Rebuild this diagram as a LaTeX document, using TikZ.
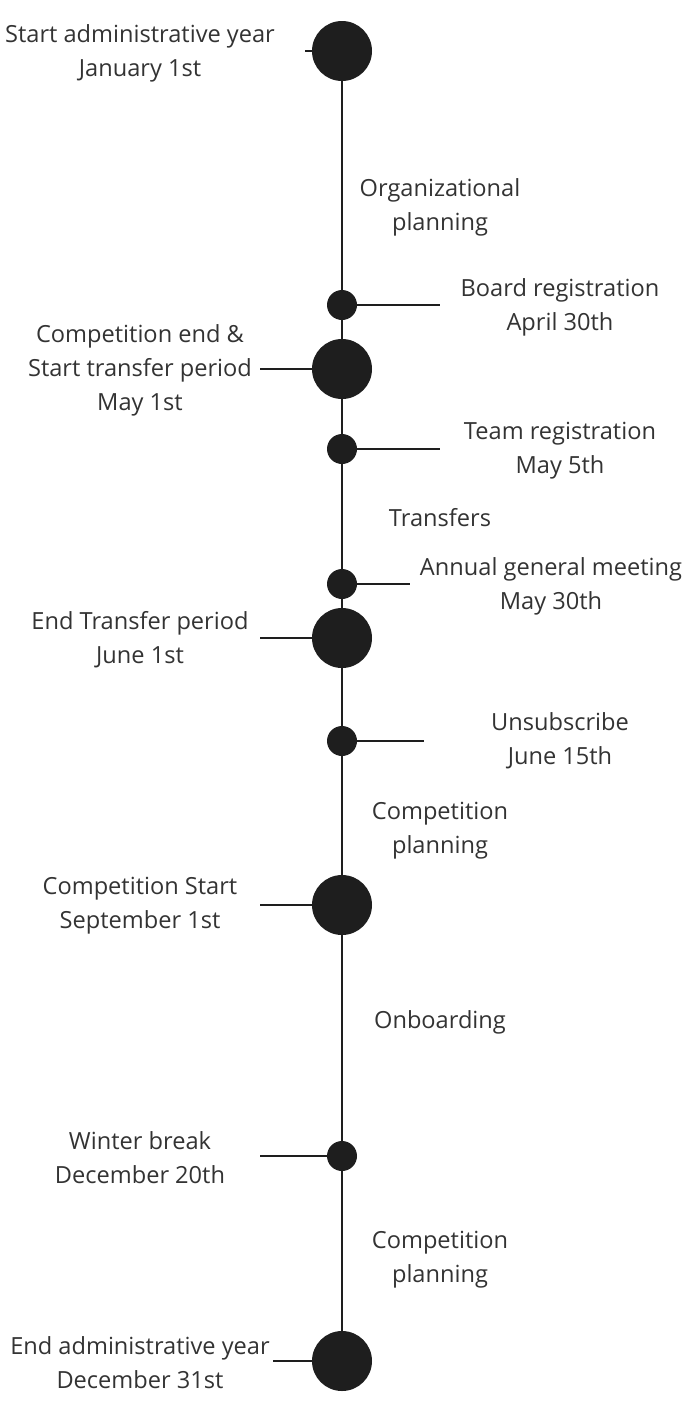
\documentclass[tikz,border=0pt]{standalone}
\usepackage{fontspec}
\setmainfont{Open Sans}
\definecolor{dotc}{HTML}{1E1E1E}
\definecolor{txtc}{HTML}{333333}
\begin{document}
\begin{tikzpicture}[x=1pt,y=-1pt,
  big/.style={circle,fill=dotc,draw=none,minimum size=60pt,inner sep=0pt},
  small/.style={circle,fill=dotc,draw=none,minimum size=30pt,inner sep=0pt},
  lbl/.style={align=center,text=txtc,font=\fontsize{23.6}{34}\selectfont,inner sep=0pt},
  conn/.style={draw=dotc,line width=1.2pt}]
\useasboundingbox (0,0) rectangle (699,1428);
% events
\node[big]   (e1)  at (342,51)   {};
\node[small] (e2)  at (342,305)  {};
\node[big]   (e3)  at (342,369)  {};
\node[small] (e4)  at (342,449)  {};
\node[small] (e5)  at (342,584)  {};
\node[big]   (e6)  at (342,638)  {};
\node[small] (e7)  at (342,741)  {};
\node[big]   (e8)  at (342,905)  {};
\node[small] (e9)  at (342,1156) {};
\node[big]   (e10) at (342,1361) {};
% spine
\foreach \a/\b in {e1/e2,e2/e3,e3/e4,e4/e5,e5/e6,e6/e7,e7/e8,e8/e9,e9/e10}
  \draw[conn] (\a) -- (\b);
% labels
\node[lbl] (t1) at (140,53) {Start administrative year\\January 1st};
\node[lbl] (t2) at (560,307) {Board registration\\April 30th};
\node[lbl] (t3) at (140,370) {Competition end \&\\Start transfer period\\May 1st};
\node[lbl] (t4) at (560,451) {Team registration\\May 5th};
\node[lbl] (t5) at (551,586) {Annual general meeting\\May 30th};
\node[lbl] (t6) at (140,640) {End Transfer period\\June 1st};
\node[lbl] (t7) at (560,741) {Unsubscribe\\June 15th};
\node[lbl] (t8) at (140,906) {Competition Start\\September 1st};
\node[lbl] (t9) at (140,1158) {Winter break\\December 20th};
\node[lbl] (t10) at (140,1363) {End administrative year\\December 31st};
% phase labels
\node[lbl] (p1) at (440,207) {Organizational\\planning};
\node[lbl] (p2) at (440,518) {Transfers};
\node[lbl] (p3) at (440,831) {Competition\\planning};
\node[lbl] (p4) at (440,1022) {Onboarding};
\node[lbl] (p5) at (440,1260) {Competition\\planning};
% ticks
\coordinate (c1) at (305,51);
\coordinate (c2) at (440,305);
\coordinate (c3) at (260,369);
\coordinate (c4) at (440,449);
\coordinate (c5) at (410,584);
\coordinate (c6) at (260,638);
\coordinate (c7) at (424,741);
\coordinate (c8) at (260,905);
\coordinate (c9) at (260,1156);
\coordinate (c10) at (273,1361);
\draw[conn] (e1.west) -- (c1);
\draw[conn] (e2.east) -- (c2);
\draw[conn] (e3.west) -- (c3);
\draw[conn] (e4.east) -- (c4);
\draw[conn] (e5.east) -- (c5);
\draw[conn] (e6.west) -- (c6);
\draw[conn] (e7.east) -- (c7);
\draw[conn] (e8.west) -- (c8);
\draw[conn] (e9.west) -- (c9);
\draw[conn] (e10.west) -- (c10);
\end{tikzpicture}
\end{document}
